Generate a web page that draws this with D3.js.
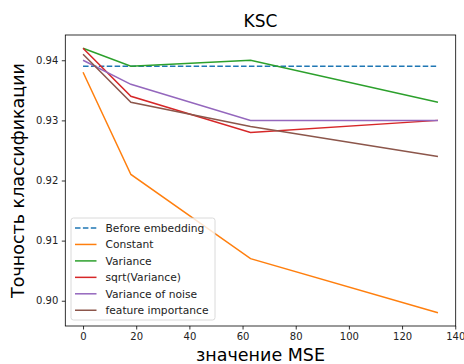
<!DOCTYPE html>
<html>
<head>
<meta charset="utf-8">
<script src="https://cdn.jsdelivr.net/npm/d3@7"></script>
<style>
  html, body { margin: 0; padding: 0; background: #fff; }
  svg { display: block; font-family: "DejaVu Sans", sans-serif; }
</style>
</head>
<body>
<svg id="chart" width="464" height="364"></svg>
<script>
// ---- data ----
const mseValues = [0, 18, 63, 133.5];
const beforeEmbedding = [0.939, 0.939, 0.939, 0.939];
const constant = [0.938, 0.921, 0.907, 0.898];
const variance = [0.942, 0.939, 0.940, 0.933];
const sqrtVariance = [0.942, 0.934, 0.928, 0.930];
const varianceOfNoise = [0.940, 0.936, 0.930, 0.930];
const featureImportance = [0.941, 0.933, 0.929, 0.924];
const seriesNames = ["Before embedding", "Constant", "Variance", "sqrt(Variance)", "Variance of noise", "feature importance"];
const seriesColors = ["#1f77b4", "#ff7f0e", "#2ca02c", "#d62728", "#9467bd", "#8c564b"];
const xTicks = [0, 20, 40, 60, 80, 100, 120, 140];
const yTicks = [0.90, 0.91, 0.92, 0.93, 0.94];
const chartTitle = "KSC";
const xLabel = "значение MSE";
const yLabel = "Точность классификации";

(function () {
const seriesValues = [beforeEmbedding, constant, variance, sqrtVariance, varianceOfNoise, featureImportance];
const series = seriesNames.map((name, i) => ({
  name, color: seriesColors[i], dashed: i === 0,
  points: mseValues.map((x, j) => ({ x, y: seriesValues[i][j] }))
}));

// ---- layout ----
const pL = 65.3, pR = 455.7, pT = 35, pB = 326;
const svg = d3.select("#chart");

const xMin = d3.min(mseValues), xMax = d3.max(mseValues);
const xPad = (xMax - xMin) * 0.05;
const allY = seriesValues.flat();
const yMin = d3.min(allY), yMax = d3.max(allY);
const yPad = (yMax - yMin) * 0.05;

const x = d3.scaleLinear().domain([xMin - xPad, xMax + xPad]).range([pL, pR]);
const y = d3.scaleLinear().domain([yMin - yPad, yMax + yPad]).range([pB, pT]);

// axes
const xAxis = svg.append("g").attr("transform", `translate(0,${pB})`)
  .call(d3.axisBottom(x).tickValues(xTicks).tickFormat(d3.format("d")).tickSize(3.5).tickPadding(3.5));
const yAxis = svg.append("g").attr("transform", `translate(${pL},0)`)
  .call(d3.axisLeft(y).tickValues(yTicks).tickFormat(d3.format(".2f")).tickSize(3.5).tickPadding(3.5));
[xAxis, yAxis].forEach(a => {
  a.select(".domain").remove();
  a.selectAll(".tick line").attr("stroke", "#000").attr("stroke-width", 0.8);
  a.selectAll(".tick text").attr("fill", "#222").style("font-size", "10px").style("font-family", "DejaVu Sans, sans-serif");
});

// lines
const line = d3.line().x(d => x(d.x)).y(d => y(d.y));
svg.append("g").selectAll("path").data(series).join("path")
  .attr("d", d => line(d.points))
  .attr("fill", "none")
  .attr("stroke", d => d.color)
  .attr("stroke-width", 1.5)
  .attr("stroke-dasharray", d => d.dashed ? "5.5,2.4" : null);

// frame
svg.append("rect").attr("x", pL).attr("y", pT).attr("width", pR - pL).attr("height", pB - pT)
  .attr("fill", "none").attr("stroke", "#000").attr("stroke-width", 0.8);

// title and labels
svg.append("text").attr("x", (pL + pR) / 2).attr("y", 27).attr("text-anchor", "middle")
  .style("font-size", "17px").attr("fill", "#000").text(chartTitle);
svg.append("text").attr("x", (pL + pR) / 2).attr("y", 361).attr("text-anchor", "middle")
  .style("font-size", "17.5px").attr("fill", "#000").text(xLabel);
svg.append("text").attr("transform", `translate(24,${(pT + pB) / 2}) rotate(-90)`).attr("text-anchor", "middle")
  .style("font-size", "17.5px").attr("fill", "#000").text(yLabel);

// legend
const lg = svg.append("g").attr("transform", "translate(71,218)");
lg.append("rect").attr("width", 144).attr("height", 102).attr("rx", 2.5)
  .attr("fill", "#fff").attr("fill-opacity", 0.8).attr("stroke", "#d0d0d0").attr("stroke-width", 0.8);
const items = lg.selectAll("g.item").data(series).join("g").attr("class", "item")
  .attr("transform", (d, i) => `translate(0,${10 + i * 16.45})`);
items.append("line").attr("x1", 4).attr("x2", 25.5).attr("y1", 0).attr("y2", 0)
  .attr("stroke", d => d.color).attr("stroke-width", 1.5)
  .attr("stroke-dasharray", d => d.dashed ? "5.5,2.4" : null);
items.append("text").attr("x", 34.5).attr("y", 0).attr("dy", "0.35em")
  .style("font-size", "10.7px").attr("fill", "#222").text(d => d.name);
})();
</script>
</body>
</html>
